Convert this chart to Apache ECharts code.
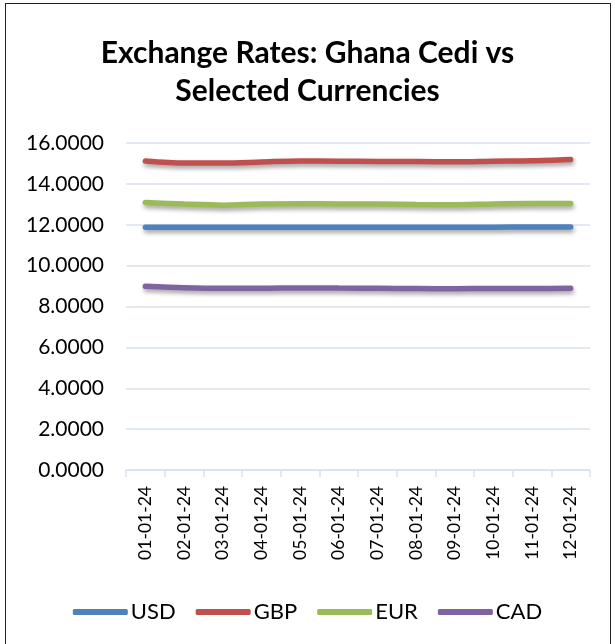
<!DOCTYPE html>
<html><head><meta charset="utf-8">
<script src="https://cdn.jsdelivr.net/npm/echarts@6/dist/echarts.min.js"></script>
<style>html,body{margin:0;padding:0;background:#fff}#frame{position:absolute;left:5px;top:3px;width:606px;height:650px;border:1.5px solid #222;box-sizing:border-box}#c{position:absolute;left:0;top:0;width:615px;height:644px}</style>
</head><body><div id="frame"></div><div id="c"></div>
<script>
const categories = ['01-01-24','02-01-24','03-01-24','04-01-24','05-01-24','06-01-24','07-01-24','08-01-24','09-01-24','10-01-24','11-01-24','12-01-24'];
const usd = [11.88,11.88,11.88,11.88,11.88,11.88,11.88,11.88,11.88,11.88,11.89,11.89];
const gbp = [15.12,15.02,15.02,15.07,15.12,15.11,15.10,15.09,15.08,15.11,15.13,15.19];
const eur = [13.09,13.01,12.96,13.01,13.03,13.02,13.01,12.99,12.98,13.02,13.04,13.04];
const cad = [8.99,8.92,8.89,8.89,8.91,8.90,8.89,8.88,8.87,8.88,8.88,8.89];
const yTicks = [0,2,4,6,8,10,12,14,16];

const font = 'Lato, "Open Sans", sans-serif';
const chart = echarts.init(document.getElementById('c'));
function s(name, data, color){
  return {name, type:'line', data, symbol:'none', smooth:0.3,
    lineStyle:{width:5.5, color, cap:'round', shadowColor:'rgba(0,0,0,0.35)', shadowBlur:4, shadowOffsetX:1, shadowOffsetY:3},
    itemStyle:{color}};
}
chart.setOption({
  animation:false,
  title:{text:'Exchange Rates: Ghana Cedi vs\nSelected Currencies', left:'center', top:29,
    textStyle:{fontFamily:font, fontSize:30, fontWeight:'bold', color:'#000', lineHeight:38}},
  grid:{left:126, right:25, top:143, bottom:174},
  xAxis:{type:'category', data:categories, boundaryGap:true,
    axisLine:{lineStyle:{color:'#d9e2f0', width:1.5}},
    axisTick:{show:true, length:7, lineStyle:{color:'#d9e2f0', width:1.5}},
    axisLabel:{rotate:90, fontFamily:font, fontSize:17.5, color:'#000', margin:16}},
  yAxis:{type:'value', min:0, max:16, interval:2,
    axisLine:{show:false}, axisTick:{show:false},
    splitLine:{lineStyle:{color:'#d9e2f0', width:1.5}},
    axisLabel:{fontFamily:font, fontSize:21, color:'#000', margin:22, formatter:v=>v.toFixed(4)}},
  legend:{bottom:16, left:'center', itemWidth:55, itemHeight:6, itemGap:20,
    icon:'roundRect',
    textStyle:{fontFamily:font, fontSize:22, color:'#000', padding:[0,0,0,-2]},
    data:['USD','GBP','EUR','CAD']},
  series:[s('USD',usd,'#4f81bd'), s('GBP',gbp,'#c0504d'), s('EUR',eur,'#9bbb59'), s('CAD',cad,'#8064a2')]
});
</script></body></html>
